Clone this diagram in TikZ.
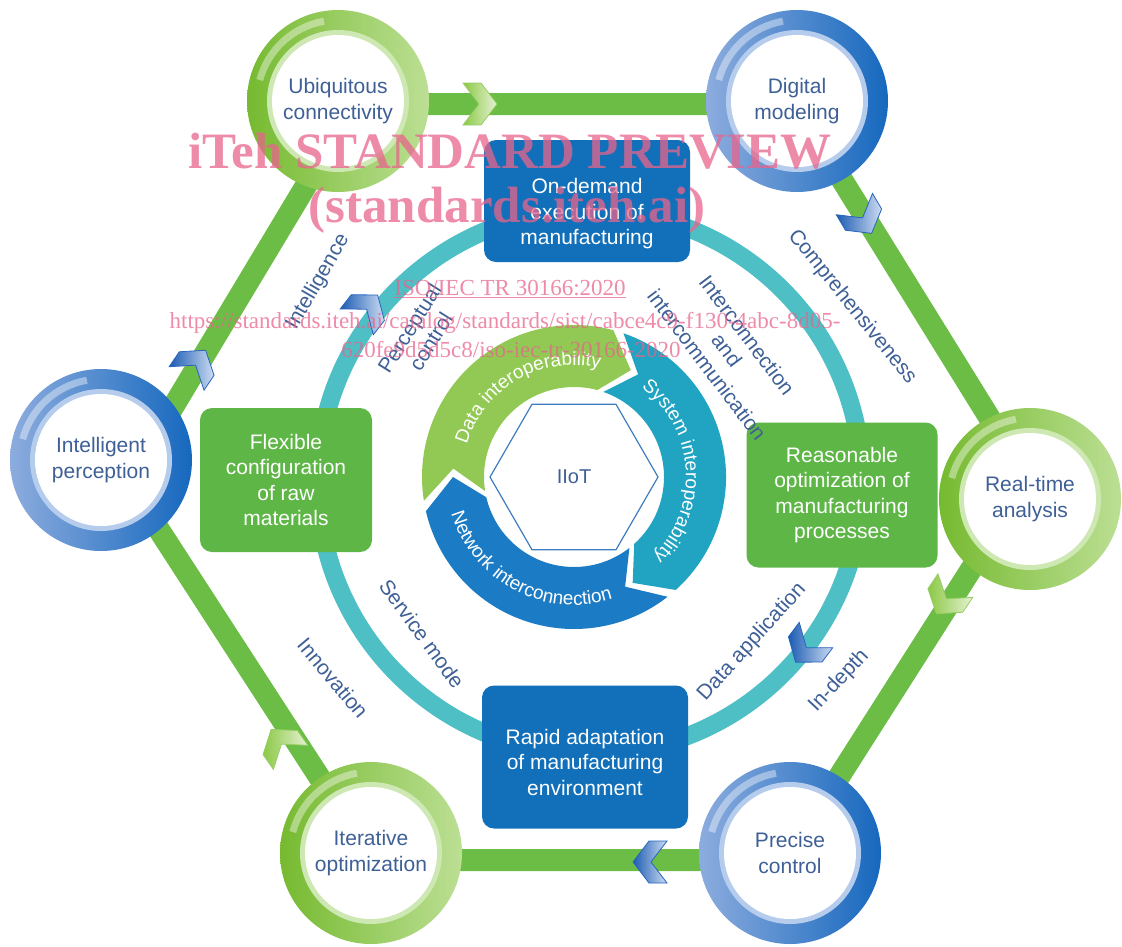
\documentclass[tikz,border=0pt]{standalone}
\usepackage{fontspec}
\setmainfont{Liberation Sans}
\newfontfamily\wmfont{Liberation Serif}
\usetikzlibrary{shapes.geometric,decorations.text}
\definecolor{hexg}{RGB}{108,189,69}
\definecolor{boxg}{RGB}{94,182,70}
\definecolor{boxb}{RGB}{17,112,185}
\definecolor{ringt}{RGB}{77,191,197}
\definecolor{cg}{RGB}{146,201,84}
\definecolor{ct}{RGB}{33,163,194}
\definecolor{cb}{RGB}{28,123,197}
\definecolor{labc}{RGB}{62,96,150}
\definecolor{gdark}{RGB}{118,186,48}
\definecolor{glight}{RGB}{188,223,148}
\definecolor{bdark}{RGB}{22,104,190}
\definecolor{blight}{RGB}{140,172,222}
\definecolor{gband}{RGB}{205,232,178}
\definecolor{bband}{RGB}{182,204,236}
\definecolor{wm}{RGB}{232,100,140}
\definecolor{hexline}{RGB}{62,124,192}
\definecolor{chgA}{RGB}{140,200,70}
\definecolor{chgB}{RGB}{228,242,210}
\definecolor{chgL}{RGB}{150,205,100}
\definecolor{chbA}{RGB}{28,92,178}
\definecolor{chbB}{RGB}{205,220,242}
\definecolor{chbL}{RGB}{40,100,190}
\newcommand\arcfont{\fontsize{19}{19}\selectfont}
\tikzset{pics/chev/.style={code={\path[#1] (-15,21) -- (3,21) -- (19,0) -- (3,-21) -- (-15,-21) -- (1,0) -- cycle;}}}
\begin{document}
\begin{tikzpicture}[x=1pt,y=1pt,
  hexedge/.style={draw=hexg, line width=22pt, line join=miter},
  ringline/.style={draw=ringt, line width=18pt},
  circbase/.style={circle, minimum size=182pt, inner sep=0pt, text=labc, align=center, font=\fontsize{21}{25.5}\selectfont},
  gcirc/.style={circbase, left color=gdark, right color=glight,
    path picture={\fill[gband] (path picture bounding box.center) circle[radius=71pt];
      \fill[white] (path picture bounding box.center) circle[radius=66pt];
      \draw[white, opacity=.4, line width=7pt] ([shift={(100:81pt)}]path picture bounding box.center) arc[start angle=100, end angle=165, radius=81pt];}},
  bcirc/.style={circbase, left color=blight, right color=bdark,
    path picture={\fill[bband] (path picture bounding box.center) circle[radius=71pt];
      \fill[white] (path picture bounding box.center) circle[radius=66pt];
      \draw[white, opacity=.4, line width=7pt] ([shift={(100:81pt)}]path picture bounding box.center) arc[start angle=100, end angle=165, radius=81pt];}},
  gbox/.style={fill=boxg, rounded corners=12pt, inner sep=0pt},
  bbox/.style={fill=boxb, rounded corners=12pt, inner sep=0pt},
  boxtext/.style={text=white, align=center, font=\fontsize{21}{25.5}\selectfont},
  lab/.style={text=labc, align=center, font=\fontsize{21}{25}\selectfont},
  chevg/.style={draw=chgL, line width=0.8pt, left color=chgA, right color=chgB},
  chevb/.style={draw=chbL, line width=0.8pt, left color=chbA, right color=chbB},
  wmbig/.style={text=wm, text opacity=0.75, anchor=base, font=\wmfont\bfseries\fontsize{51}{51}\selectfont},
  wmsmall/.style={text=wm, text opacity=0.75, anchor=base, font=\wmfont\fontsize{23}{23}\selectfont}
]
\useasboundingbox (0,0) rectangle (1122,-946);
% hexagon frame
\coordinate (v1) at (355,-104);
\coordinate (v2) at (795,-104);
\coordinate (v3) at (1028,-480);
\coordinate (v4) at (786,-860);
\coordinate (v5) at (373,-860);
\coordinate (v6) at (128,-482);
\draw[hexedge] (v1) -- (v2) -- (v3) -- (v4) -- (v5) -- (v6) -- cycle;
% teal ring
\coordinate (rc) at (590,-482);
\draw[ringline] (rc) circle[radius=272];
% chevrons on hexagon and ring
\pic[rotate=0] at (478,-104) {chev=chevg};
\pic[rotate=-59.5] at (862,-217) {chev=chevb};
\pic[rotate=-124] at (947,-598) {chev=chevg};
\pic[rotate=180] at (652,-862) {chev=chevb};
\pic[rotate=125] at (282,-745) {chev=chevg};
\pic[rotate=56] at (195,-366) {chev=chevb};
\pic[rotate=52] at (366,-310) {chev=chevb};
\pic[rotate=-127] at (807,-647) {chev=chevb};
% circles
\node[gcirc] (ubiq) at (338,-101) {Ubiquitous\\connectivity};
\node[bcirc] (digi) at (797,-101) {Digital\\modeling};
\node[gcirc] (realt) at (1030,-499) {Real-time\\analysis};
\node[bcirc] (prec) at (790,-853) {Precise\\control};
\node[gcirc] (iter) at (371,-853) {Iterative\\optimization};
\node[bcirc] (intel) at (101,-460) {Intelligent\\perception};
% boxes
\node[bbox, minimum width=206pt, minimum height=122pt] (ondem) at (587,-201) {};
\node[boxtext] (ondemt) at ([yshift=-13pt]ondem.center) {On-demand\\execution of\\manufacturing};
\node[gbox, minimum width=172pt, minimum height=144pt] (flex) at (286,-480) {};
\node[boxtext] (flext) at (flex.center) {Flexible\\configuration\\of raw\\materials};
\node[gbox, minimum width=191pt, minimum height=145pt] (reas) at (842,-495) {};
\node[boxtext] (reast) at (reas.center) {Reasonable\\optimization of\\manufacturing\\processes};
\node[bbox, minimum width=206pt, minimum height=143pt] (rapid) at (585,-757) {};
\node[boxtext] (rapidt) at ([yshift=-5pt]rapid.center) {Rapid adaptation\\of manufacturing\\environment};
% central cycle
\begin{scope}[shift={(574,-477)}]
\fill[cg] (189:152) arc[start angle=189, end angle=75, radius=152] -- (62:121) -- (75:90) arc[start angle=75, end angle=189, radius=90] -- (176:121) -- cycle;
\fill[ct] (71:152) arc[start angle=71, end angle=-48, radius=152] -- (-61:121) -- (-48:90) arc[start angle=-48, end angle=71, radius=90] -- (58:121) -- cycle;
\fill[cb] (-52:152) arc[start angle=-52, end angle=-167, radius=152] -- (-180:121) -- (-167:90) arc[start angle=-167, end angle=-52, radius=90] -- (-65:121) -- cycle;
\path[decorate, decoration={text along path, text align=center, text={|\arcfont\color{white}|Data interoperability}}] (185:112) arc[start angle=185, end angle=55, radius=112];
\path[decorate, decoration={text along path, text align=center, text={|\arcfont\color{white}|System interoperability}}] (62:112) arc[start angle=62, end angle=-54, radius=112];
\path[decorate, decoration={text along path, text align=center, text={|\arcfont\color{white}|Network interconnection}}] (183:128) arc[start angle=183, end angle=301, radius=128];
\end{scope}
\node[regular polygon, regular polygon sides=6, minimum size=168pt, inner sep=0pt, draw=hexline, line width=1.2pt, text=labc, font=\fontsize{20}{24}\selectfont] (iiot) at (574,-477) {IIoT};
% labels
\node[lab, rotate=60] (lintel) at (318,-282) {Intelligence};
\node[lab, rotate=58] (lperc) at (420,-335) {Perceptual\\control};
\node[lab, rotate=-53] (linter) at (727,-350) {Interconnection\\and\\intercommunication};
\node[lab, rotate=-51] (lcomp) at (852,-307) {Comprehensiveness};
\node[lab, rotate=48] (ldata) at (752,-642) {Data application};
\node[lab, rotate=47] (ldepth) at (839,-681) {In-depth};
\node[lab, rotate=-54] (lserv) at (422,-634) {Service mode};
\node[lab, rotate=-50] (linno) at (333,-678) {Innovation};
% watermark
\node[wmbig] (wm1) at (510,-168) {iTeh STANDARD PREVIEW};
\node[wmbig] (wm2) at (507,-222) {(standards.iteh.ai)};
\node[wmsmall] (wm3) at (510,-295) {\underline{ISO/IEC TR 30166:2020}};
\node[wmsmall] (wm4) at (505,-328) {https://standards.iteh.ai/catalog/standards/sist/cabce4c9-f130-4abc-8d05-};
\node[wmsmall] (wm5) at (511,-357) {620fe9d5d5c8/iso-iec-tr-30166-2020};
\end{tikzpicture}
\end{document}
